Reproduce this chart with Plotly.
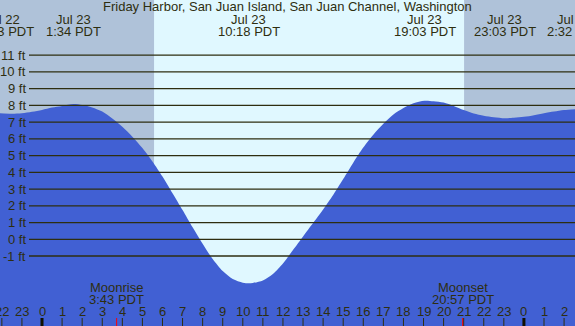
import plotly.graph_objects as go

# ---- data (hours relative to Jul 23 00:00 PDT) ----
tide_hours = [-2.1, -1.5, -1.0, -0.5, 0.0, 0.5, 1.0, 1.57, 2.0, 2.5, 3.0, 3.5, 4.0, 4.5,
              5.0, 5.5, 6.0, 6.5, 7.0, 7.5, 8.0, 8.5, 9.0, 9.5, 10.0, 10.3, 10.5, 11.0,
              11.5, 12.0, 12.5, 13.0, 13.5, 14.0, 14.5, 15.0, 15.5, 16.0, 16.5, 17.0,
              17.5, 18.0, 18.5, 19.05, 19.5, 20.0, 20.5, 21.0, 21.5, 22.0, 22.5, 23.05,
              23.5, 24.0, 24.5, 25.0, 25.5, 26.0, 26.6]
tide_feet = [7.53, 7.50, 7.53, 7.62, 7.73, 7.87, 7.97, 8.08, 8.02, 7.88, 7.63, 7.22, 6.72, 6.13,
             5.45, 4.65, 3.75, 2.75, 1.75, 0.72, -0.26, -1.18, -1.90, -2.38, -2.60, -2.63, -2.61, -2.46,
             -2.08, -1.45, -0.64, 0.17, 0.97, 1.78, 2.65, 3.60, 4.58, 5.48, 6.25, 6.90,
             7.46, 7.85, 8.13, 8.28, 8.25, 8.17, 7.97, 7.72, 7.52, 7.38, 7.29, 7.23,
             7.26, 7.32, 7.42, 7.53, 7.63, 7.72, 7.78]

event_hours = [-1.95, 1.567, 10.3, 19.05, 23.05, 26.533]
event_dates = ["Jul 22", "Jul 23", "Jul 23", "Jul 23", "Jul 23", "Jul 24"]
event_times = ["22:03 PDT", "1:34 PDT", "10:18 PDT", "19:03 PDT", "23:03 PDT", "2:32 PDT"]

moon_hours = [3.717, 20.95]
moon_names = ["Moonrise", "Moonset"]
moon_times = ["3:43 PDT", "20:57 PDT"]

sunrise_hour = 5.58
sunset_hour = 21.02

ft_levels = [-1, 0, 1, 2, 3, 4, 5, 6, 7, 8, 9, 10, 11]
ft_labels = ["-1 ft", "0 ft", "1 ft", "2 ft", "3 ft", "4 ft", "5 ft", "6 ft", "7 ft",
             "8 ft", "9 ft", "10 ft", "11 ft"]

tick_hours = list(range(-2, 27))
tick_labels = [str(h % 24) for h in tick_hours]
midnight_hours = [0, 24]

title_text = "Friday Harbor, San Juan Island, San Juan Channel, Washington"

# ---- style ----
X_RANGE = [-2.092, 26.544]
Y_RANGE = [-5.182, 14.30]
NIGHT = "#afc2d9"
DAY = "#e0f8ff"
WATER = "#4160d3"
INK = "#2e2e10"
FONT = "Liberation Sans"

fig = go.Figure()
fig.add_trace(go.Scatter(x=tide_hours, y=[Y_RANGE[0] - 1] * len(tide_hours),
                         mode="lines", line=dict(width=0), hoverinfo="skip", showlegend=False))
fig.add_trace(go.Scatter(x=tide_hours, y=tide_feet, mode="lines",
                         line=dict(width=0, color=WATER, shape="spline", smoothing=0.8),
                         fill="tonexty", fillcolor=WATER, showlegend=False))

shapes = []
# night shading
shapes.append(dict(type="rect", xref="x", yref="paper", x0=X_RANGE[0] - 1, x1=sunrise_hour,
                   y0=0, y1=1, fillcolor=NIGHT, line=dict(width=0), layer="below"))
shapes.append(dict(type="rect", xref="x", yref="paper", x0=sunset_hour, x1=X_RANGE[1] + 1,
                   y0=0, y1=1, fillcolor=NIGHT, line=dict(width=0), layer="below"))
# feet lines
for lv in ft_levels:
    shapes.append(dict(type="line", xref="paper", yref="y", x0=29 / 575, x1=1, y0=lv, y1=lv,
                       line=dict(color=INK, width=1.3), layer="above"))
# hour ticks
for h in tick_hours:
    if h in midnight_hours:
        continue
    shapes.append(dict(type="line", xref="x", yref="paper", x0=h, x1=h, y0=0, y1=8 / 326,
                       line=dict(color=INK, width=1), layer="above"))
for h in midnight_hours:
    shapes.append(dict(type="line", xref="x", yref="paper", x0=h, x1=h, y0=0, y1=8 / 326,
                       line=dict(color="#111100", width=3), layer="above"))
for h in moon_hours:
    shapes.append(dict(type="line", xref="x", yref="paper", x0=h, x1=h, y0=0, y1=8 / 326,
                       line=dict(color="#ff0000", width=1), layer="above"))

ann = []
f = dict(family=FONT, size=13, color=INK)
ann.append(dict(text=title_text, xref="paper", yref="paper", x=0.5, y=1 - 7 / 326,
                xanchor="center", yanchor="middle", showarrow=False, font=f))
for h, d, t in zip(event_hours, event_dates, event_times):
    ann.append(dict(text=d, xref="x", yref="paper", x=h, y=1 - 20 / 326,
                    xanchor="center", yanchor="middle", showarrow=False, font=f))
    ann.append(dict(text=t, xref="x", yref="paper", x=h, y=1 - 32 / 326,
                    xanchor="center", yanchor="middle", showarrow=False, font=f))
for lv, lb in zip(ft_levels, ft_labels):
    ann.append(dict(text=lb, xref="paper", yref="y", x=27.5 / 575, y=lv,
                    xanchor="right", yanchor="middle", showarrow=False, font=f))
for h, lb in zip(tick_hours, tick_labels):
    ann.append(dict(text=lb, xref="x", yref="paper", x=h, y=(326 - 311.5) / 326,
                    xanchor="center", yanchor="middle", showarrow=False, font=f))
for h, n, t in zip(moon_hours, moon_names, moon_times):
    ann.append(dict(text=n, xref="x", yref="paper", x=h, y=(326 - 287) / 326,
                    xanchor="center", yanchor="middle", showarrow=False, font=f))
    ann.append(dict(text=t, xref="x", yref="paper", x=h, y=(326 - 299) / 326,
                    xanchor="center", yanchor="middle", showarrow=False, font=f))

fig.update_layout(
    width=575, height=326, margin=dict(l=0, r=0, t=0, b=0),
    paper_bgcolor=DAY, plot_bgcolor=DAY,
    xaxis=dict(range=X_RANGE, visible=False, showgrid=False, zeroline=False),
    yaxis=dict(range=Y_RANGE, visible=False, showgrid=False, zeroline=False),
    shapes=shapes, annotations=ann, showlegend=False,
)

fig.write_html("out.html", config={"displayModeBar": False},
               post_script="document.body.style.margin='0';document.body.style.padding='0';"
                           "document.body.style.overflow='hidden';")
